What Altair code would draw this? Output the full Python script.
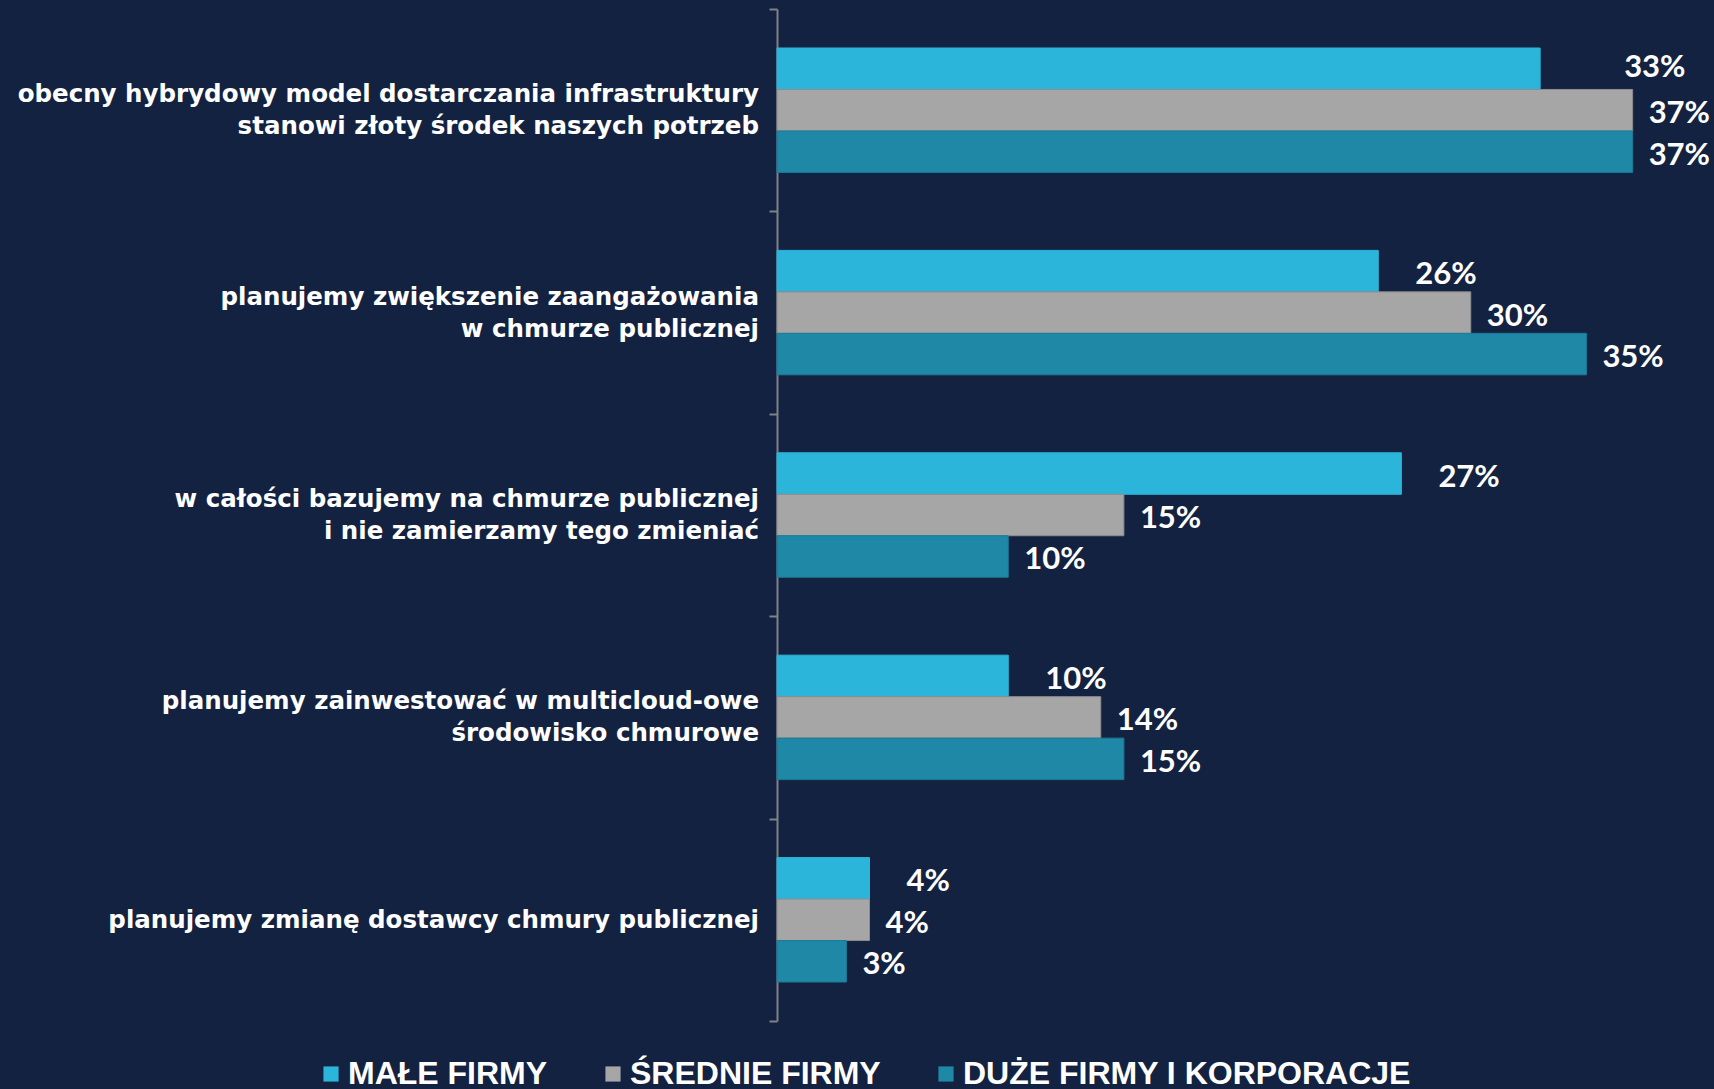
import altair as alt
import pandas as pd

categories = [
    "obecny hybrydowy model dostarczania infrastruktury|stanowi złoty środek naszych potrzeb",
    "planujemy zwiększenie zaangażowania|w chmurze publicznej",
    "w całości bazujemy na chmurze publicznej|i nie zamierzamy tego zmieniać",
    "planujemy zainwestować w multicloud-owe|środowisko chmurowe",
    "planujemy zmianę dostawcy chmury publicznej",
]
series = ["MAŁE FIRMY", "ŚREDNIE FIRMY", "DUŻE FIRMY I KORPORACJE"]
male_firmy = [33, 26, 27, 10, 4]
srednie_firmy = [37, 30, 15, 14, 4]
duze_firmy = [37, 35, 10, 15, 3]

colors = ["#2BB5DA", "#A6A6A6", "#1F88A7"]
strokes = ["#2BB5DA", "#8C8C8C", "#1B7B98"]
BG = "#142241"

rows = []
for s, vals in zip(series, [male_firmy, srednie_firmy, duze_firmy]):
    for i, (c, v) in enumerate(zip(categories, vals)):
        rows.append({"category": c, "series": s, "value": v, "idx": i})
df = pd.DataFrame(rows)
cat_df = pd.DataFrame({"category": categories})

y_enc = alt.Y(
    "category:N",
    sort=categories,
    scale=alt.Scale(paddingInner=0, paddingOuter=0),
    axis=alt.Axis(
        title=None,
        labels=False,
        domainColor="#7F8189",
        domainWidth=2,
        tickColor="#7F8189",
        tickWidth=2,
        tickSize=8,
        tickBand="extent",
        grid=False,
    ),
)
yoff_enc = alt.YOffset(
    "series:N", sort=series, scale=alt.Scale(paddingInner=0, paddingOuter=0.94)
)
x_enc = alt.X("value:Q", scale=alt.Scale(domain=[0, 40]), axis=None)

base = alt.Chart(df).encode(y=y_enc, yOffset=yoff_enc, x=x_enc)

bars = base.mark_bar(strokeWidth=1).encode(
    color=alt.Color(
        "series:N",
        sort=series,
        scale=alt.Scale(domain=series, range=colors),
        legend=alt.Legend(
            title=None,
            orient="none",
            direction="horizontal",
            legendX=-462,
            legendY=1049,
            symbolType="square",
            symbolSize=230,
            symbolStrokeWidth=0,
            labelFont="Liberation Sans",
            labelFontWeight="bold",
            labelFontSize=32,
            labelColor="white",
            labelOffset=1,
            labelLimit=0,
            columnPadding=49,
            padding=0,
        ),
    ),
    stroke=alt.Stroke(
        "series:N", sort=series, scale=alt.Scale(domain=series, range=strokes), legend=None
    ),
)

text_base = base.transform_calculate(label="datum.value + '%'").encode(
    text=alt.Text("label:N")
)
txt_style = dict(
    align="left",
    baseline="middle",
    font="Lato",
    fontWeight="bold",
    fontSize=31,
    color="white",
)
t_other = text_base.transform_filter(f"datum.series != '{series[0]}'").mark_text(
    dx=16, dy=4, **txt_style
)
t_small = text_base.transform_filter(
    f"datum.series == '{series[0]}' && datum.idx != 0"
).mark_text(dx=37, dy=4, **txt_style)
t_small0 = text_base.transform_filter(
    f"datum.series == '{series[0]}' && datum.idx == 0"
).mark_text(dx=84, dy=-1, **txt_style)

# category labels (right aligned block, placed left of the axis)
cat_style = dict(
    align="right",
    baseline="middle",
    font="DejaVu Sans",
    fontWeight="bold",
    fontSize=24.5,
    lineHeight=32,
    lineBreak="|",
    color="white",
)
cat_base = alt.Chart(cat_df).encode(
    y=y_enc, x=alt.value(-18), text=alt.Text("category:N")
)
cat_two = cat_base.transform_filter("indexof(datum.category, '|') >= 0").mark_text(
    dy=-15, **cat_style
)
cat_one = cat_base.transform_filter("indexof(datum.category, '|') < 0").mark_text(
    dy=1, **cat_style
)

chart = (
    alt.layer(bars, t_other, t_small, t_small0, cat_two, cat_one)
    .properties(
        width=925,
        height=1012,
        autosize=alt.AutoSizeParams(type="none"),
        padding={"left": 777, "top": 9, "right": 12, "bottom": 68},
        background=BG,
    )
    .configure_view(stroke=None)
)

chart.save("out.html", embed_options={"renderer": "svg", "actions": False})
